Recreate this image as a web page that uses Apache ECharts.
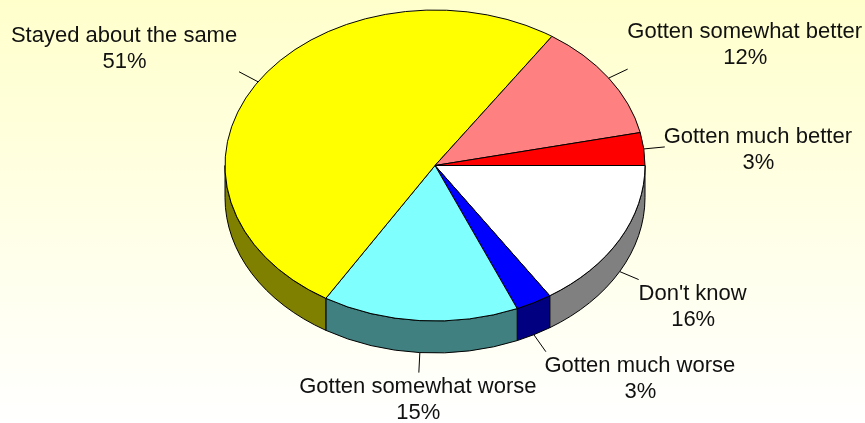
<!DOCTYPE html>
<html>
<head>
<meta charset="utf-8">
<style>html,body{margin:0;padding:0;background:#fff}#c{width:865px;height:423px}</style>
<script src="https://cdn.jsdelivr.net/npm/echarts@6/dist/echarts.min.js"></script>
</head>
<body>
<div id="c"></div>
<script>
// Data, clockwise from 3 o'clock
const categories = ["Don't know", "Gotten much worse", "Gotten somewhat worse", "Stayed about the same", "Gotten somewhat better", "Gotten much better"];
const values = [15.8, 2.8, 15.1, 50.7, 12.2, 3.4];
const percentLabels = ["16%", "3%", "15%", "51%", "12%", "3%"];

// Styles
const topColors = ["#FFFFFF", "#0000FF", "#80FFFF", "#FFFF00", "#FF8080", "#FF0000"];
const sideColors = ["#808080", "#000080", "#408080", "#808000", "#804040", "#800000"];
const leaderOffsets = [[19, 8], [12, 17], [-1, 20], [-19, -10], [19, -9], [21, -2]];
const labelOffsets = [[54, 14], [94, 14], [-1, 14], [-115, -36], [117, -37], [93, -10]];

const CX = 435, CY = 165.5, RX = 210, RY = 155.5, DEPTH = 32;
const FONT = '22px "Liberation Sans", Arial, sans-serif';
const total = values.reduce((a, b) => a + b, 0);
const rad = d => d * Math.PI / 180;
const px = a => CX + RX * Math.cos(rad(a));
const py = a => CY + RY * Math.sin(rad(a));
function span(i) {
  let s = 0;
  for (let k = 0; k < i; k++) s += values[k];
  return [s / total * 360, (s + values[i]) / total * 360];
}
function arc(a2, sweep, dy) {
  return `A ${RX} ${RY} 0 0 ${sweep} ${px(a2)} ${py(a2) + dy}`;
}
function renderSide(params) {
  const [a, b] = span(params.dataIndex);
  const a1 = Math.max(a, 0), a2 = Math.min(b, 180);
  if (a1 >= a2) return { type: 'group', children: [] };
  const d = `M ${px(a1)} ${py(a1)} ${arc(a2, 1, 0)} L ${px(a2)} ${py(a2) + DEPTH} ${arc(a1, 0, DEPTH)} Z`;
  return { type: 'path', shape: { pathData: d }, style: { fill: sideColors[params.dataIndex], stroke: '#000', lineWidth: 1 } };
}
function renderTop(params) {
  const [a, b] = span(params.dataIndex);
  const large = b - a > 180 ? 1 : 0;
  const d = `M ${CX} ${CY} L ${px(a)} ${py(a)} A ${RX} ${RY} 0 ${large} 1 ${px(b)} ${py(b)} Z`;
  return { type: 'path', shape: { pathData: d }, style: { fill: topColors[params.dataIndex], stroke: '#000', lineWidth: 1 } };
}
function renderLabel(params) {
  const i = params.dataIndex;
  const [a, b] = span(i);
  const m = (a + b) / 2;
  const x0 = px(m), y0 = py(m) + (m > 0 && m < 180 ? DEPTH : 0);
  const x1 = x0 + leaderOffsets[i][0], y1 = y0 + leaderOffsets[i][1];
  const lx = x1 + labelOffsets[i][0], ly = y1 + labelOffsets[i][1];
  return {
    type: 'group',
    children: [
      { type: 'line', shape: { x1: x0, y1: y0, x2: x1, y2: y1 }, style: { stroke: '#000', lineWidth: 1 } },
      { type: 'text', style: { text: categories[i], x: lx, y: ly, align: 'center', verticalAlign: 'middle', font: FONT, fill: '#111' } },
      { type: 'text', style: { text: percentLabels[i], x: lx + 0.5, y: ly + 26, align: 'center', verticalAlign: 'middle', font: FONT, fill: '#111' } }
    ]
  };
}
const chart = echarts.init(document.getElementById('c'), null, { renderer: 'canvas' });
chart.setOption({
  animation: false,
  backgroundColor: { type: 'linear', x: 0, y: 0, x2: 0, y2: 1, colorStops: [{ offset: 0, color: '#FFFFCC' }, { offset: 1, color: '#FFFFFF' }] },
  series: [
    { type: 'custom', coordinateSystem: 'none', silent: true, z: 1, renderItem: renderSide, data: values },
    { type: 'custom', coordinateSystem: 'none', silent: true, z: 2, renderItem: renderTop, data: values },
    { type: 'custom', coordinateSystem: 'none', silent: true, z: 3, renderItem: renderLabel, data: values }
  ]
});
</script>
</body>
</html>
